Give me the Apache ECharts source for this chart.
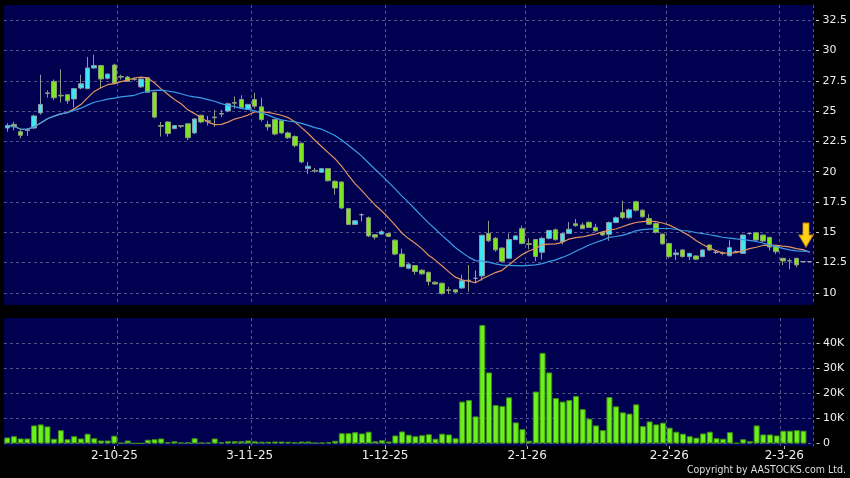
<!DOCTYPE html>
<html><head><meta charset="utf-8">
<script src="https://cdn.jsdelivr.net/npm/echarts@6/dist/echarts.min.js"></script>
<style>html,body{margin:0;padding:0;background:#000}#c{width:850px;height:478px}</style>
</head><body><div id="c"></div>
<script>
// ---- data ----
const opens = [
23.6, 23.9, 23.3, 23.4, 23.6, 24.85, 26.5, 27.45, 26.3, 26.35,
26.0, 26.9, 26.85, 28.55, 28.75, 27.7, 28.8, 27.85, 27.8, 27.65,
27.0, 27.75, 26.55, 23.8, 24.1, 23.55, 23.8, 23.95, 23.2, 24.65,
24.2, 24.5, 24.8, 25.0, 25.7, 25.95, 25.15, 25.95, 25.35, 23.9,
24.3, 24.2, 23.2, 22.9, 22.35, 20.25, 20.1, 19.95, 20.25, 19.2,
19.15, 16.95, 15.65, 16.45, 16.2, 14.8, 14.85, 14.9, 14.35, 13.2,
12.03, 12.25, 11.87, 11.7, 10.88, 10.8, 10.25, 10.25, 10.4, 11.05,
11.2, 11.4, 14.9, 14.5, 13.7, 12.85, 14.4, 15.3, 14.05, 14.4,
13.35, 14.5, 15.2, 14.22, 14.9, 15.7, 15.6, 15.82, 15.4, 14.98,
14.83, 15.8, 16.62, 16.2, 17.52, 16.82, 16.13, 15.72, 14.85, 14.08,
13.15, 13.54, 12.99, 13.05, 12.99, 13.95, 13.35, 13.3, 13.07, 13.4,
13.26, 14.9, 14.96, 14.77, 14.58, 13.87, 12.85, 12.65, 12.85, 12.58,
12.58];
const closes = [
23.8, 23.7, 23.0, 23.45, 24.6, 25.55, 26.45, 26.1, 26.25, 25.85,
26.85, 27.25, 28.55, 28.75, 27.65, 28.05, 27.3, 27.8, 27.45, 27.6,
27.65, 26.55, 24.5, 23.75, 23.15, 23.8, 23.75, 22.8, 24.35, 24.1,
24.15, 24.45, 24.75, 25.6, 25.65, 25.3, 25.55, 25.4, 24.3, 23.7,
23.1, 23.2, 22.8, 22.15, 20.8, 20.45, 20.05, 20.25, 19.25, 18.65,
17.0, 15.65, 15.95, 16.45, 14.7, 14.6, 15.05, 14.65, 13.2, 12.17,
12.37, 11.76, 11.57, 10.94, 10.73, 9.95, 10.2, 10.07, 11.0, 11.0,
11.2, 14.75, 14.3, 13.55, 12.6, 14.4, 14.7, 14.08, 14.0, 13.0,
14.5, 15.15, 14.4, 14.9, 15.25, 15.55, 15.3, 15.4, 15.12, 14.78,
15.8, 16.2, 16.22, 16.85, 16.82, 16.28, 15.67, 15.0, 14.05, 12.99,
13.3, 13.0, 13.26, 12.78, 13.54, 13.54, 13.35, 13.25, 13.73, 13.4,
14.77, 14.9, 14.36, 14.28, 13.78, 13.4, 12.64, 12.64, 12.31, 12.58,
12.58];
const lows = [
23.3, 23.4, 22.75, 22.95, 23.5, 24.7, 26.1, 25.9, 25.7, 25.6,
25.3, 26.8, 26.8, 28.5, 26.9, 27.6, 27.2, 27.6, 27.4, 27.5,
26.9, 26.5, 24.4, 22.9, 22.9, 23.5, 23.6, 22.6, 23.1, 24.0,
23.8, 23.7, 24.5, 24.9, 25.2, 25.2, 25.1, 25.2, 24.15, 23.4,
23.0, 23.1, 22.7, 22.0, 20.7, 19.8, 19.9, 19.9, 19.2, 18.1,
16.9, 15.6, 15.6, 15.9, 14.6, 14.4, 14.8, 14.6, 13.1, 12.1,
11.95, 11.5, 11.5, 10.6, 10.7, 9.85, 9.9, 10.0, 10.35, 10.1,
10.8, 11.0, 14.2, 13.4, 12.5, 12.8, 14.35, 14.0, 13.6, 12.6,
12.75, 14.4, 14.3, 14.0, 14.85, 15.45, 15.25, 15.35, 15.05, 14.7,
14.3, 15.75, 16.1, 16.1, 16.7, 16.2, 15.6, 14.9, 13.95, 12.85,
12.7, 12.9, 12.7, 12.7, 12.95, 13.45, 13.2, 13.1, 13.0, 13.3,
13.2, 14.8, 14.3, 14.2, 13.5, 13.2, 12.3, 11.95, 12.1, 12.55,
12.58];
const highs = [
24.0, 24.1, 23.5, 23.6, 24.7, 28.0, 26.7, 27.6, 28.45, 26.4,
26.9, 28.0, 29.45, 29.65, 28.8, 28.1, 28.9, 28.0, 27.9, 27.75,
27.7, 27.8, 26.6, 24.1, 24.15, 23.85, 23.85, 24.0, 24.4, 24.7,
24.6, 25.1, 25.1, 25.7, 26.2, 26.3, 25.6, 26.5, 26.1, 24.2,
24.35, 24.25, 23.3, 23.0, 22.4, 20.8, 20.3, 20.3, 20.3, 19.3,
19.2, 17.0, 16.0, 16.55, 16.3, 14.85, 15.2, 14.95, 14.4, 13.65,
12.45, 12.3, 11.95, 11.75, 10.95, 10.85, 10.5, 10.3, 11.5, 12.3,
11.85, 14.8, 15.95, 14.6, 13.75, 14.9, 14.75, 15.55, 14.5, 14.45,
14.6, 15.2, 15.3, 14.95, 15.85, 16.1, 15.8, 15.9, 15.7, 15.05,
15.9, 16.3, 17.6, 16.95, 17.6, 16.9, 16.5, 15.8, 14.9, 14.1,
13.6, 13.6, 13.3, 13.1, 13.6, 14.0, 13.5, 13.4, 14.35, 13.5,
14.85, 14.95, 15.0, 14.8, 14.6, 13.9, 12.9, 12.85, 12.9, 12.62,
12.58];
// volume in thousands of shares
const volumes = [
2.4, 2.9, 2.0, 2.0, 7.2, 7.6, 6.8, 1.9, 5.3, 1.7,
2.9, 2.0, 3.9, 2.1, 1.2, 1.2, 3.1, 0.3, 1.2, 0.1,
0.1, 1.5, 1.7, 2.0, 0.5, 0.9, 0.4, 0.5, 2.1, 0.4,
0.4, 2.0, 0.5, 0.9, 0.9, 0.9, 1.2, 0.9, 0.7, 0.7,
0.8, 0.8, 0.7, 0.5, 0.8, 0.8, 0.4, 0.4, 0.5, 1.1,
4.1, 4.1, 4.5, 4.0, 4.7, 0.9, 1.3, 0.8, 3.2, 4.8,
3.5, 2.9, 3.3, 3.7, 1.9, 3.9, 3.6, 2.1, 16.7, 17.3,
10.8, 47.2, 28.3, 15.3, 14.9, 18.4, 8.4, 5.7, 1.1, 20.7,
36.1, 28.3, 18.1, 16.7, 17.3, 18.9, 13.7, 9.9, 7.2, 5.3,
18.5, 14.8, 12.4, 11.9, 15.6, 6.9, 8.8, 7.6, 8.3, 6.3,
4.7, 3.9, 2.9, 2.3, 4.0, 4.7, 2.1, 1.9, 4.5, 0.2,
1.7, 0.9, 7.2, 3.6, 3.6, 3.2, 5.1, 5.1, 5.3, 5.1];
const tickIdx = [16, 36, 56, 77, 98, 115];
const tickLabels = ['2-10-25', '3-11-25', '1-12-25', '2-1-26', '2-2-26', '2-3-26'];
const priceTicks = [10, 12.5, 15, 17.5, 20, 22.5, 25, 27.5, 30, 32.5];
const volumeTicks = [0, 10, 20, 30, 40];
const arrowPoint = [119, 14.77];

// ---- build ----
const cats = opens.map((_, i) => String(i));
const labelMap = {};
tickIdx.forEach((d, k) => { labelMap[d] = tickLabels[k]; });
function sma(arr, n) {
  return arr.map((_, i) => {
    const s = Math.max(0, i - n + 1);
    let sum = 0;
    for (let k = s; k <= i; k++) sum += arr[k];
    return +(sum / (i - s + 1)).toFixed(3);
  });
}
const ma10 = sma(closes, 10);
const ma20 = sma(closes, 20);
const kData = cats.map((_, i) => [opens[i], closes[i], lows[i], highs[i]]);

const gridLine = { color: '#55558a', type: [3, 3], width: 1 };
const splitX = { show: true, interval: (i) => tickIdx.includes(i - 1), lineStyle: gridLine };
const FONT = 'DejaVu Sans';

const chart = echarts.init(document.getElementById('c'), null, { renderer: 'canvas' });
chart.setOption({
  animation: false,
  backgroundColor: '#000000',
  grid: [
    { left: 3.95, right: 36.5, top: 5, height: 300, show: true, backgroundColor: '#000050', borderWidth: 0 },
    { left: 3.95, right: 36.5, top: 318, height: 128, show: true, backgroundColor: '#000050', borderWidth: 0 },
    { left: 2.75, width: 818.8, top: 318, height: 128, show: false }
  ],
  xAxis: [
    { type: 'category', gridIndex: 0, data: cats, axisLine: { show: false }, axisTick: { show: false }, axisLabel: { show: false }, splitLine: splitX },
    { type: 'category', gridIndex: 1, data: cats, axisLine: { show: false }, axisTick: { show: false }, axisLabel: { show: false }, splitLine: splitX },
    { type: 'category', gridIndex: 2, data: cats, axisLine: { show: false },
      axisTick: { show: true, alignWithLabel: true, interval: (i) => tickIdx.includes(i), length: 3, lineStyle: { color: '#bbbbbb' } },
      axisLabel: { show: true, interval: (i) => tickIdx.includes(i), formatter: (v, i) => labelMap[i] || '', margin: 4, color: '#eeeeee', fontSize: 12, fontFamily: FONT },
      splitLine: { show: false } }
  ],
  yAxis: [
    { type: 'value', gridIndex: 0, position: 'right', min: 9, max: 33.75, offset: 3,
      axisLine: { show: false },
      axisTick: { show: true, length: 3, customValues: priceTicks, lineStyle: { color: '#cccccc' } },
      axisLabel: { customValues: priceTicks, margin: 6.5, color: '#eeeeee', fontSize: 11, fontFamily: FONT },
      splitLine: { show: true, lineStyle: gridLine } },
    { type: 'value', gridIndex: 1, position: 'right', min: -1, max: 50, offset: 3,
      axisLine: { show: false },
      axisTick: { show: true, length: 3, customValues: volumeTicks, lineStyle: { color: '#cccccc' } },
      axisLabel: { customValues: volumeTicks, margin: 6.5, color: '#eeeeee', fontSize: 11, fontFamily: FONT,
        formatter: (v) => (v === 0 ? '0' : v + 'K') },
      splitLine: { show: true, lineStyle: gridLine } },
    { type: 'value', gridIndex: 2, show: false }
  ],
  series: [
    { type: 'candlestick', xAxisIndex: 0, yAxisIndex: 0, data: kData, barWidth: 5,
      itemStyle: { color: '#3ee6f2', color0: '#7ee61c', borderColor: '#8c96a4', borderColor0: '#8c9a80', borderColorDoji: '#a0a0ac', borderWidth: 1 },
      markPoint: {
        data: [{ coord: [String(arrowPoint[0]), arrowPoint[1]], symbol: 'path://M4,0 L10,0 L10,12 L14,12 L7,24 L0,12 L4,12 Z',
          symbolSize: [14, 24], symbolOffset: [3, 0],
          itemStyle: { color: '#ffd21a', borderColor: '#d08c00', borderWidth: 1 }, label: { show: false } }]
      } },
    { type: 'line', xAxisIndex: 0, yAxisIndex: 0, data: ma10, showSymbol: false, symbol: 'none',
      lineStyle: { color: '#e4925e', width: 1.2 } },
    { type: 'line', xAxisIndex: 0, yAxisIndex: 0, data: ma20, showSymbol: false, symbol: 'none',
      lineStyle: { color: '#3a9ee6', width: 1.2 } },
    { type: 'bar', xAxisIndex: 1, yAxisIndex: 1, data: volumes, barWidth: 6,
      itemStyle: { color: '#6cf01c', borderColor: '#3f8f14', borderWidth: 1 } }
  ],
  graphic: [
    { type: 'text', right: 4, top: 465,
      style: { text: 'Copyright by AASTOCKS.com Ltd.', fill: '#dddddd', fontSize: 10.5,
        fontFamily: '"DejaVu Sans Condensed", "Liberation Sans Narrow", "Liberation Sans", sans-serif' } }
  ]
});
</script>
</body></html>
